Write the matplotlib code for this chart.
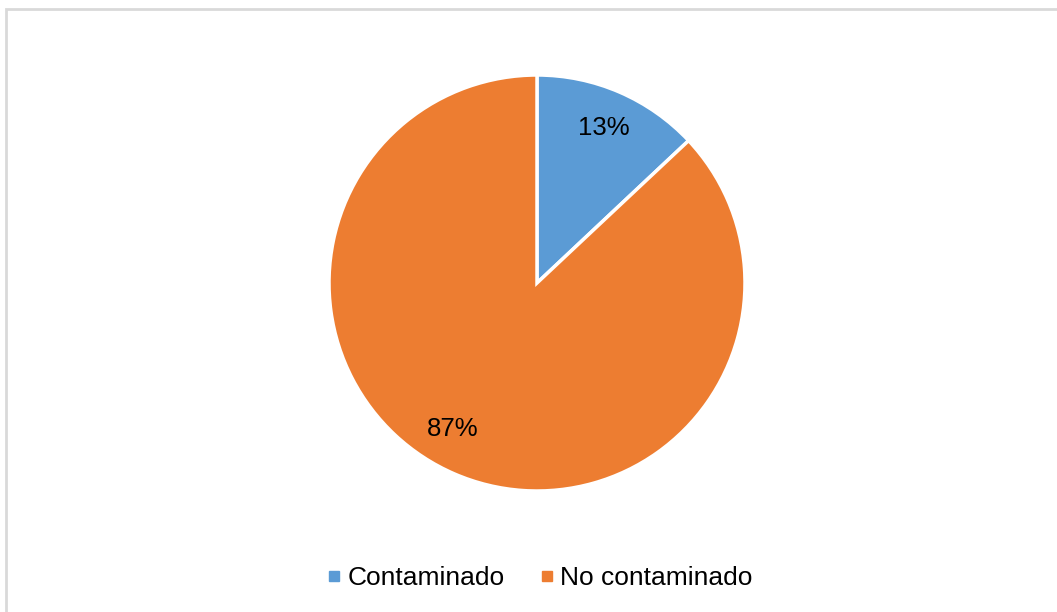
import numpy as np
import matplotlib.pyplot as plt
from matplotlib.patches import Rectangle
from matplotlib.lines import Line2D

# data
categories = ["Contaminado", "No contaminado"]
values = [13, 87]
colors = ["#5B9BD5", "#ED7D31"]

plt.rcParams['font.family'] = ['Liberation Sans', 'DejaVu Sans']

W, H = 1057, 612
fig = plt.figure(figsize=(W / 100, H / 100), dpi=100)

# chart frame (right/bottom edges fall outside the picture)
fig.patches.append(Rectangle((6 / W, -0.1), 1.2, (H - 9) / H + 0.1, transform=fig.transFigure,
                             fill=False, edgecolor="#D9D9D9", linewidth=2))

cx, cy, r = 537, H - 283, 208
ax = fig.add_axes([(cx - r) / W, (cy - r) / H, 2 * r / W, 2 * r / H])
wedges, texts, autotexts = ax.pie(values, colors=colors, startangle=90, counterclock=False,
                                  autopct="%1.0f%%", pctdistance=0.81,
                                  wedgeprops=dict(edgecolor="white", linewidth=2.5),
                                  textprops=dict(fontsize=18.5, color="black"))
# Excel-style best-fit position for the big slice label
ang = np.deg2rad(-120)
autotexts[1].set_position((0.81 * np.cos(ang), 0.81 * np.sin(ang)))
ax.set_xlim(-1, 1)
ax.set_ylim(-1, 1)
ax.set_aspect("equal")
ax.axis("off")

handles = [Line2D([], [], marker="s", linestyle="none", markersize=6.5,
                  markerfacecolor=c, markeredgecolor=c) for c in colors]
fig.legend(handles, categories, loc="center", bbox_to_anchor=(538 / W, 1 - 578 / H),
           ncol=2, frameon=False, fontsize=19, handletextpad=0.1, columnspacing=1.2,
           handlelength=0.8)

fig.savefig("out.png", dpi=100)
